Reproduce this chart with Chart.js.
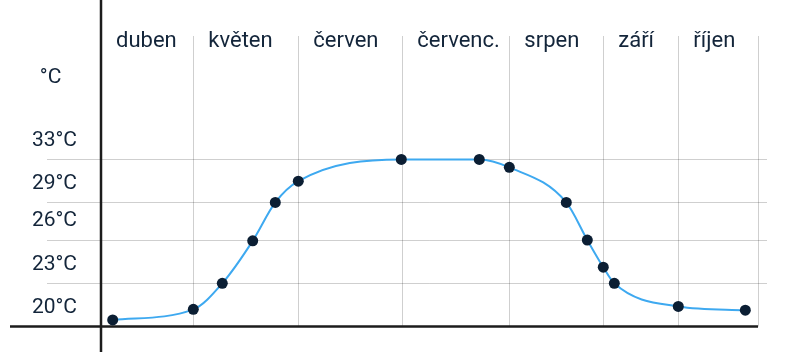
<!DOCTYPE html>
<html>
<head>
<meta charset="utf-8">
<script src="https://cdn.jsdelivr.net/npm/chart.js@4/dist/chart.umd.min.js"></script>
<style>
  html, body { margin: 0; padding: 0; background: #fff; }
  #wrap { width: 787px; height: 352px; position: relative; }
</style>
</head>
<body>
<div id="wrap"><canvas id="chart"></canvas></div>
<script>
// month bands along the top (position on a 0-100 timeline)
const monthNames = ['duben', 'květen', 'červen', 'červenc.', 'srpen', 'září', 'říjen'];
const monthStarts = [0, 14.05, 30.03, 45.86, 62.15, 76.45, 87.87, 100];

// measured points
const pointX = [1.78, 14.05, 18.46, 23.09, 26.53, 30.03, 45.71, 57.58, 62.15, 70.82, 74.02, 76.45, 78.13, 87.87, 98.07];
const tempValues = [18.97, 19.73, 21.6, 24.65, 27.41, 28.94, 30.5, 30.5, 29.93, 27.41, 24.71, 22.76, 21.6, 19.94, 19.67];

// y axis: grid lines and the labels sitting in the band above each line
const gridTemps = [18.5, 21.6, 24.71, 27.41, 30.5];
const tempLabels = ['20°C', '23°C', '26°C', '29°C', '33°C'];
const unitLabel = '°C';
const unitTick = 35;

const TEXT = '#13253a';
const GRID = 'rgba(0,0,0,0.19)';
const FONT = 'Roboto, "Noto Sans", sans-serif';

const axisLines = {
  id: 'axisLines',
  beforeDatasetsDraw(chart) {
    const { ctx, scales } = chart;
    const x0 = scales.x.getPixelForValue(monthStarts[0]);
    const xEnd = scales.x.getPixelForValue(monthStarts[monthStarts.length - 1]);
    const y0 = scales.y.getPixelForValue(gridTemps[0]);
    ctx.save();
    ctx.strokeStyle = '#1c1c1c';
    ctx.lineWidth = 2.5;
    ctx.beginPath();
    ctx.moveTo(x0, 0);
    ctx.lineTo(x0, chart.height);
    ctx.moveTo(10, y0);
    ctx.lineTo(xEnd, y0);
    ctx.stroke();
    ctx.restore();
  }
};

const points = pointX.map((x, i) => ({ x: x, y: tempValues[i] }));

new Chart(document.getElementById('chart'), {
  type: 'line',
  data: {
    datasets: [{
      data: points,
      borderColor: '#3ea9f0',
      borderWidth: 2,
      cubicInterpolationMode: 'monotone',
      pointRadius: 5.5,
      pointBackgroundColor: '#0b1e33',
      pointBorderWidth: 0,
      clip: false
    }]
  },
  options: {
    responsive: true,
    maintainAspectRatio: false,
    animation: false,
    layout: { padding: { left: 0, right: 20, top: 0, bottom: 25.5 } },
    plugins: { legend: { display: false }, tooltip: { enabled: false } },
    scales: {
      x: {
        type: 'linear',
        position: 'top',
        min: monthStarts[0],
        max: monthStarts[monthStarts.length - 1],
        afterBuildTicks: s => { s.ticks = monthStarts.map(v => ({ value: v })); },
        afterFit: s => { s.height = 55; },
        border: { display: false },
        grid: {
          tickLength: 19,
          color: c => (c.tick && c.tick.value === monthStarts[0]) ? 'transparent' : GRID
        },
        ticks: {
          autoSkip: false,
          maxRotation: 0,
          align: 'start',
          labelOffset: 15,
          padding: -19,
          color: TEXT,
          font: { family: FONT, size: 22 },
          callback: (v, i) => monthNames[i] || ''
        }
      },
      y: {
        type: 'linear',
        min: 18.5,
        max: 38,
        afterBuildTicks: s => { s.ticks = gridTemps.concat([unitTick]).map(v => ({ value: v })); },
        afterFit: s => { s.width = 101; },
        border: { display: false },
        grid: {
          tickLength: 54,
          color: c => (c.tick && (c.tick.value === unitTick || c.tick.value === gridTemps[0])) ? 'transparent' : GRID
        },
        ticks: {
          autoSkip: false,
          labelOffset: -19,
          padding: -30,
          color: TEXT,
          font: { family: FONT, size: 21 },
          callback: (v, i) => i < tempLabels.length ? tempLabels[i] : unitLabel + '\u00a0\u00a0\u00a0'
        }
      },
      y2: {
        type: 'linear',
        position: 'right',
        min: 18.5,
        max: 38,
        afterBuildTicks: s => { s.ticks = gridTemps.map(v => ({ value: v })); },
        afterFit: s => { s.width = 9; },
        border: { display: false },
        grid: {
          drawOnChartArea: false,
          tickLength: 9,
          color: c => (c.tick && c.tick.value === gridTemps[0]) ? 'transparent' : GRID
        },
        ticks: { display: false }
      }
    }
  },
  plugins: [axisLines]
});
</script>
</body>
</html>
